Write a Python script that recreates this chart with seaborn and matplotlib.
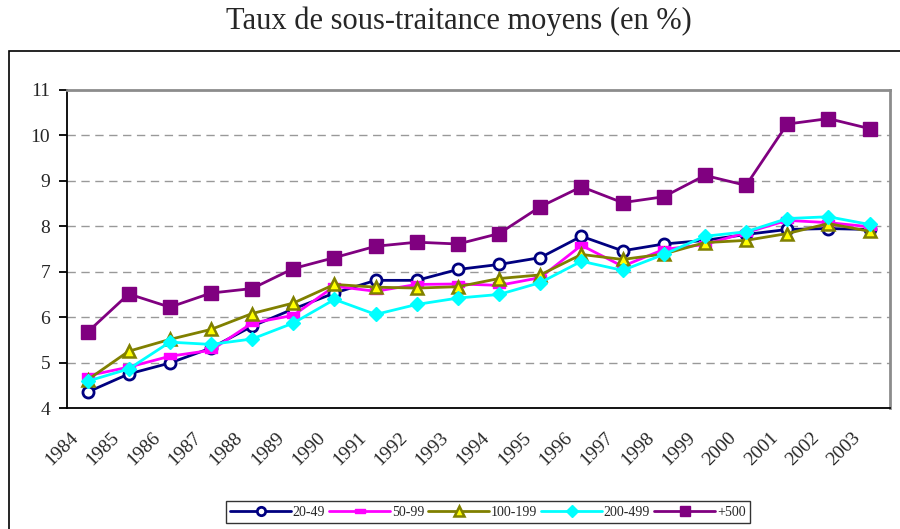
import numpy as np
import pandas as pd
import matplotlib
matplotlib.use('Agg')
import matplotlib.pyplot as plt
import matplotlib.transforms as mtransforms
from matplotlib.patches import Rectangle
from matplotlib.path import Path
import seaborn as sns

# Data
years = [str(y) for y in range(1984, 2004)]
s_20_49 = [4.35, 4.75, 4.99, 5.32, 5.80, 6.18, 6.53, 6.81, 6.81, 7.05,
           7.16, 7.31, 7.78, 7.46, 7.61, 7.69, 7.82, 7.93, 7.95, 7.93]
s_50_99 = [4.71, 4.90, 5.14, 5.27, 5.87, 6.04, 6.68, 6.57, 6.72, 6.73,
           6.70, 6.87, 7.58, 7.12, 7.49, 7.60, 7.86, 8.13, 8.08, 7.99]
s_100_199 = [4.62, 5.25, 5.51, 5.73, 6.08, 6.31, 6.72, 6.66, 6.64, 6.67,
             6.85, 6.93, 7.38, 7.27, 7.39, 7.64, 7.69, 7.84, 8.06, 7.89]
s_200_499 = [4.59, 4.86, 5.45, 5.40, 5.52, 5.87, 6.39, 6.06, 6.28, 6.42,
             6.50, 6.76, 7.23, 7.03, 7.38, 7.78, 7.88, 8.17, 8.21, 8.04]
s_500 = [5.67, 6.51, 6.22, 6.53, 6.63, 7.07, 7.31, 7.56, 7.65, 7.61,
         7.84, 8.43, 8.87, 8.52, 8.65, 9.12, 8.90, 10.25, 10.37, 10.15]
labels = ['20-49', '50-99', '100-199', '200-499', '+500']

dash = Path([(-1, -0.45), (1, -0.45), (1, 0.45), (-1, 0.45), (-1, -0.45)],
            [Path.MOVETO, Path.LINETO, Path.LINETO, Path.LINETO, Path.CLOSEPOLY])

styles = [
    dict(color='#000080', marker='o', mfc='white', mec='#000080', ms=8, mew=2),
    dict(color='#FF00FF', marker=dash, mfc='#FF00FF', mec='#FF00FF', ms=9, mew=1),
    dict(color='#808000', marker='^', mfc='#FFFF00', mec='#808000', ms=9, mew=1.8),
    dict(color='#00FFFF', marker='D', mfc='#00FFFF', mec='#00FFFF', ms=7.5, mew=1),
    dict(color='#800080', marker='s', mfc='#800080', mec='#800080', ms=10, mew=1),
]

sns.set_style('white')
plt.rcParams['font.family'] = ['Liberation Serif', 'DejaVu Serif']

fig = plt.figure(figsize=(9, 5.29), dpi=100)
ax = fig.add_axes([0.0744, 0.2287, 0.9146, 0.6012])

series = [s_20_49, s_50_99, s_100_199, s_200_499, s_500]
for lab, vals, st in zip(labels, series, styles):
    df = pd.DataFrame({'year': years, 'taux': vals})
    sns.lineplot(data=df, x='year', y='taux', ax=ax, label=lab,
                 color=st['color'], lw=2, marker=st['marker'],
                 markerfacecolor=st['mfc'], markeredgecolor=st['mec'],
                 markersize=st['ms'], markeredgewidth=st['mew'], sort=False)

ax.set_xlim(-0.5, len(years) - 0.5)
ax.set_ylim(4, 11)
ax.set_yticks(range(4, 12))
ax.set_xlabel('')
ax.set_ylabel('')

# gridlines
for v in range(5, 11):
    ax.axhline(v, color='#999999', lw=1, ls=(0, (6, 4)), zorder=0)

# ticks: marks at category boundaries, labels at centers
ax.set_xticks(np.arange(len(years)))
ax.set_xticks(np.arange(-0.5, len(years)), minor=True)
ax.tick_params(axis='x', which='major', length=0, pad=15, labelsize=14)
ax.tick_params(axis='x', which='minor', length=6, width=1.3, color='black', direction='out')
ax.tick_params(axis='y', which='major', length=6, width=1.3, color='black', direction='out',
               pad=6, labelsize=14, left=True)
offset = mtransforms.ScaledTranslation(-6 / 100, 0, fig.dpi_scale_trans)
for t in ax.get_xticklabels():
    t.set_rotation(45)
    t.set_ha('right')
    t.set_va('top')
    t.set_transform(t.get_transform() + offset)

for side in ['left', 'bottom']:
    ax.spines[side].set_color('black')
    ax.spines[side].set_linewidth(1.3)
for side in ['top', 'right']:
    ax.spines[side].set_color('#8c8c8c')
    ax.spines[side].set_linewidth(2)

fig.suptitle('Taux de sous-traitance moyens (en %)', x=0.51, y=0.988, fontsize=22)

# outer chart border (clipped by figure edges)
fig.add_artist(Rectangle((9 / 900, -0.1), 1.2, 0.1 + (1 - 51 / 529), transform=fig.transFigure,
                         fill=False, edgecolor='black', lw=1.2))

leg = ax.legend(loc='center', bbox_to_anchor=(0.542, 0.032), bbox_transform=fig.transFigure,
                ncol=5, frameon=True, fancybox=False, fontsize=10, handlelength=4.4,
                columnspacing=0.3, handletextpad=0.1, borderpad=0.3, edgecolor='black',
                markerscale=0.75)
leg.get_frame().set_linewidth(1)

fig.savefig('out.png', dpi=100)
